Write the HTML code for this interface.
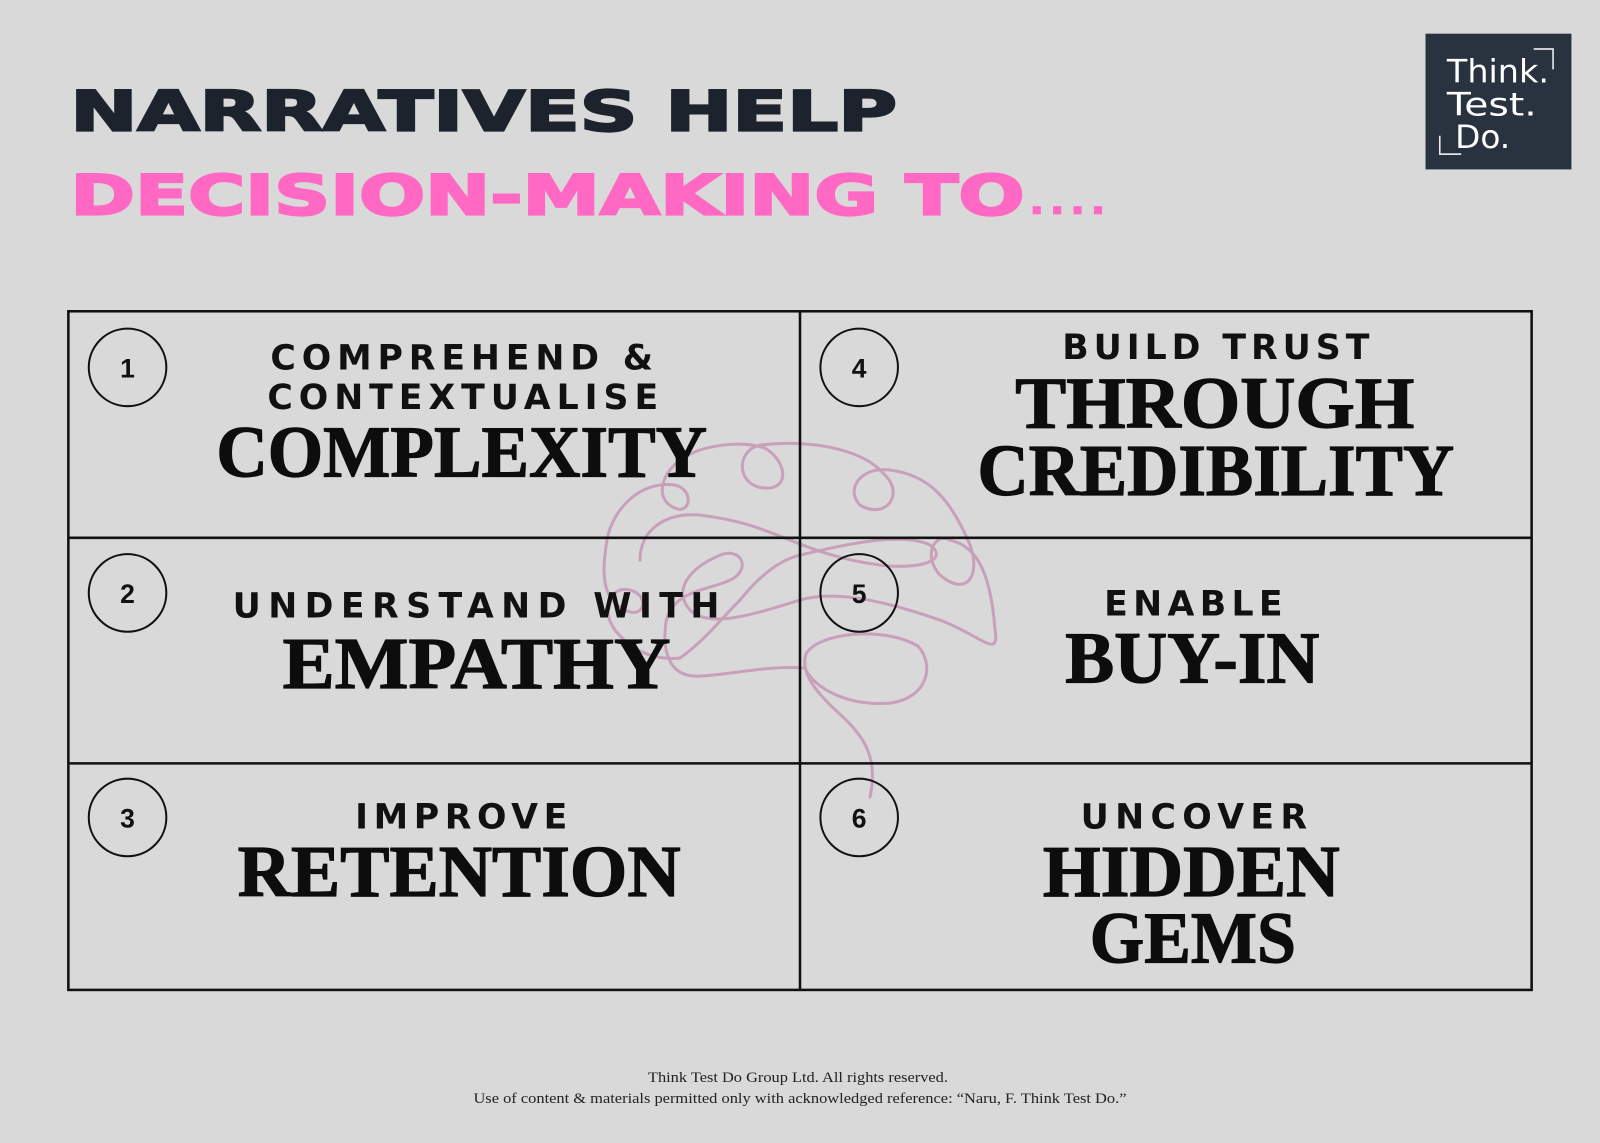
<!DOCTYPE html>
<html><head><meta charset="utf-8"><style>
html,body{margin:0;padding:0;background:#d9d9d9;}
svg{display:block;}
</style></head><body>
<svg width="1600" height="1143" viewBox="0 0 1568 1120" preserveAspectRatio="none" xmlns="http://www.w3.org/2000/svg">
<rect width="1568" height="1120" fill="#d9d9d9"/>
<!-- Title -->
<text x="69" y="128" font-family="DejaVu Sans" font-weight="bold" font-size="54" fill="#1c232c" stroke="#1c232c" stroke-width="2.2" stroke-linejoin="miter" textLength="810" lengthAdjust="spacingAndGlyphs">NARRATIVES HELP</text>
<text x="69" y="210" font-family="DejaVu Sans" font-weight="bold" font-size="54" fill="#ff69c4" stroke="#ff69c4" stroke-width="2.2" stroke-linejoin="miter" textLength="935" lengthAdjust="spacingAndGlyphs">DECISION-MAKING TO</text>
<g fill="#ff69c4"><rect x="1012" y="202" width="8" height="8"/><rect x="1032" y="202" width="8" height="8"/><rect x="1052" y="202" width="8" height="8"/><rect x="1072" y="202" width="8" height="8"/></g>
<!-- Logo -->
<rect x="1397" y="33" width="143" height="133" fill="#29333f"/>
<g fill="none" stroke="#fff" stroke-width="1.4">
<path d="M1503,48 H1522 V68"/><path d="M1411,133 V151 H1432"/>
</g>
<g font-family="DejaVu Sans" font-weight="normal" font-size="31" fill="#fff">
<text x="1418" y="81" textLength="100" lengthAdjust="spacingAndGlyphs">Think.</text>
<text x="1418" y="113" textLength="88" lengthAdjust="spacingAndGlyphs">Test.</text>
<text x="1426" y="145" textLength="54" lengthAdjust="spacingAndGlyphs">Do.</text>
</g>
<!-- Brain squiggle -->
<g transform="scale(0.98)" fill="none" stroke="#c9a0ba" stroke-width="3" stroke-linecap="round">
<path d="M870,797 C878,760 866,738 842,716 C815,692 800,672 806,654 C818,632 885,626 918,646 C935,665 928,698 890,703 C850,706 815,690 805,668 C770,665 735,674 700,676 C668,678 662,650 666,622 C672,590 710,590 730,580 C752,570 742,545 718,556 C690,568 672,590 690,610 C710,630 760,612 800,600 C840,588 900,606 940,620 C980,635 1000,660 995,630 C990,560 970,545 950,540 C935,532 922,555 940,575 C970,600 982,570 968,540 C950,500 930,475 890,470 C860,466 845,490 860,505 C885,520 905,495 885,475 C860,445 800,440 760,445 C735,450 735,490 770,488 C790,485 785,460 765,448 C740,440 700,445 680,460 C660,475 655,500 675,508 C690,515 695,490 675,485 C640,480 612,510 607,540 C600,580 605,600 625,610 C645,620 650,595 630,590 C610,585 600,610 615,630 C635,655 660,660 680,658" />
<path d="M680,658 C705,640 720,620 740,600 C760,575 780,560 800,555 C830,548 900,530 930,545 C950,560 920,570 880,565 C840,560 810,548 790,540 C760,528 740,520 700,515 C665,512 640,530 640,560"/>
</g>
<!-- Grid -->
<g fill="none" stroke="#111" stroke-width="2.5">
<rect x="67" y="305" width="1434" height="665"/>
<line x1="784" y1="305" x2="784" y2="970"/>
<line x1="67" y1="527" x2="1501" y2="527"/>
<line x1="67" y1="748" x2="1501" y2="748"/>
</g>
<g fill="none" stroke="#111" stroke-width="2">
<circle cx="125" cy="360" r="38"/><circle cx="125" cy="581" r="38"/><circle cx="125" cy="801" r="38"/>
<circle cx="842" cy="360" r="38"/><circle cx="842" cy="581" r="38"/><circle cx="842" cy="801" r="38"/>
</g>
<g font-family="Liberation Sans" font-weight="bold" font-size="26" fill="#111" text-anchor="middle">
<text x="125" y="370">1</text><text x="125" y="591">2</text><text x="125" y="811">3</text>
<text x="842" y="370">4</text><text x="842" y="591">5</text><text x="842" y="811">6</text>
</g>
<!-- Small spaced caps -->
<g font-family="DejaVu Sans" font-weight="bold" font-size="34" fill="#111">
<text x="265" y="362" textLength="375" lengthAdjust="spacing">COMPREHEND &amp;</text>
<text x="262" y="401" textLength="383" lengthAdjust="spacing">CONTEXTUALISE</text>
<text x="1041" y="352" textLength="301" lengthAdjust="spacing">BUILD TRUST</text>
<text x="228" y="605" textLength="477" lengthAdjust="spacing">UNDERSTAND WITH</text>
<text x="1082" y="603" textLength="175" lengthAdjust="spacing">ENABLE</text>
<text x="348" y="812" textLength="208" lengthAdjust="spacing">IMPROVE</text>
<text x="1059" y="812" textLength="222" lengthAdjust="spacing">UNCOVER</text>
</g>
<!-- Big serif -->
<g font-family="Liberation Serif" font-weight="bold" font-size="72" fill="#0d0d0d" stroke="#0d0d0d" stroke-width="1.2">
<text x="212" y="467" textLength="481" lengthAdjust="spacingAndGlyphs">COMPLEXITY</text>
<text x="995" y="419" textLength="391" lengthAdjust="spacingAndGlyphs">THROUGH</text>
<text x="958" y="485" textLength="467" lengthAdjust="spacingAndGlyphs">CREDIBILITY</text>
<text x="277" y="674" textLength="380" lengthAdjust="spacingAndGlyphs">EMPATHY</text>
<text x="1044" y="669" textLength="249" lengthAdjust="spacingAndGlyphs">BUY-IN</text>
<text x="233" y="878" textLength="434" lengthAdjust="spacingAndGlyphs">RETENTION</text>
<text x="1022" y="878" textLength="291" lengthAdjust="spacingAndGlyphs">HIDDEN</text>
<text x="1068" y="943" textLength="202" lengthAdjust="spacingAndGlyphs">GEMS</text>
</g>
<!-- Footer -->
<g font-family="Liberation Serif" font-size="14" fill="#222">
<text x="635" y="1060" textLength="294" lengthAdjust="spacingAndGlyphs">Think Test Do Group Ltd. All rights reserved.</text>
<text x="464" y="1081" textLength="640" lengthAdjust="spacingAndGlyphs">Use of content &amp; materials permitted only with acknowledged reference: “Naru, F. Think Test Do.”</text>
</g>
</svg>
</body></html>
